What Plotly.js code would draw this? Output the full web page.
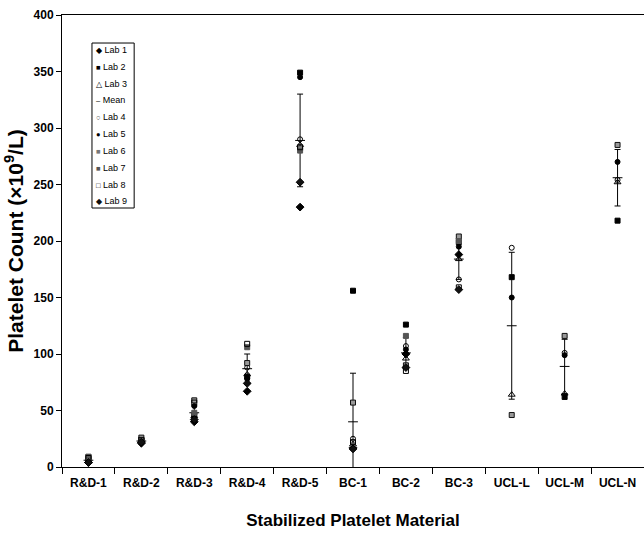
<!DOCTYPE html>
<html>
<head>
<meta charset="utf-8">
<script src="https://cdn.plot.ly/plotly-3.0.1.min.js"></script>
<style>
  html, body { margin: 0; padding: 0; background: #fff; }
  #chart { width: 644px; height: 535px; }
</style>
</head>
<body>
<div id="chart"></div>
<script>
// Stabilized platelet materials measured by each laboratory
const materials = ["R&D-1", "R&D-2", "R&D-3", "R&D-4", "R&D-5", "BC-1", "BC-2", "BC-3", "UCL-L", "UCL-M", "UCL-N"];

// Platelet counts (x10^9/L) per laboratory; null = not reported
const lab1 = [4, 21, 40, 67, 230, 17, 100, 188, null, null, null];
const lab2 = [9, 24, 46, 80, 349, 156, 126, 199, 168, 62, 218];
const lab3 = [5, 23, 45, 82, 285, 20, 96, 184, 64, 65, 252];
const lab4 = [5, 22, 47, 88, 290, 25, 107, 166, 194, 101, 254];
const lab5 = [5, 25, 54, 78, 345, 18, 104, 195, 150, 99, 270];
const lab6 = [8, 26, 59, 92, 282, 57, 90, 204, 46, 116, 285];
const lab7 = [9, 23, 48, 106, 280, 19, 116, 200, null, null, null];
const lab8 = [8, 24, 57, 109, 283, 22, 85, 159, null, null, null];
const lab9 = [4, 22, 42, 74, 252, 16, 88, 157, null, null, null];

// Mean and standard deviation across laboratories
const meanVals = [6, 23, 48, 87, 289, 40, 101, 184, 125, 89, 256];
const sdVals = [2, 1.6, 6, 13, 41, 43, 13.5, 18, 65, 24, 25];

// Key entries: symbol glyph + label
const keyLabels = ["Lab 1", "Lab 2", "Lab 3", "Mean", "Lab 4", "Lab 5", "Lab 6", "Lab 7", "Lab 8", "Lab 9"];
const keyGlyphs = ["◆", "■", "△", "–", "○", "●", "■", "■", "□", "◆"];
const keyGlyphColors = ["#000", "#000", "#000", "#000", "#333", "#000", "#777", "#555", "#000", "#111"];

function labTrace(name, y, marker) {
  return {
    type: "scatter", mode: "markers", name: name,
    x: materials, y: y,
    marker: Object.assign({ color: "#000", size: 5, line: { width: 1, color: "#000" } }, marker),
    cliponaxis: false,
    showlegend: false,
    hoverinfo: "x+y+name"
  };
}

const traces = [
  labTrace("Lab 1", lab1, { symbol: "diamond", size: 6 }),
  labTrace("Lab 2", lab2, { symbol: "square", size: 5 }),
  labTrace("Lab 3", lab3, { symbol: "triangle-up-open", size: 6 }),
  {
    type: "scatter", mode: "markers", name: "Mean",
    x: materials, y: meanVals, showlegend: false,
    marker: { symbol: "line-ew", size: 7, color: "#000", line: { width: 1, color: "#000" } },
    error_y: { type: "data", array: sdVals, visible: true, color: "#000", thickness: 1, width: 3 }
  },
  labTrace("Lab 4", lab4, { symbol: "circle-open", size: 5, line: { width: 1, color: "#333" } }),
  labTrace("Lab 5", lab5, { symbol: "circle", size: 5 }),
  labTrace("Lab 6", lab6, { symbol: "square", size: 5, color: "#999", line: { width: 1, color: "#111" } }),
  labTrace("Lab 7", lab7, { symbol: "square", size: 5, color: "#555", line: { width: 1, color: "#555" } }),
  labTrace("Lab 8", lab8, { symbol: "square-open", size: 5 }),
  labTrace("Lab 9", lab9, { symbol: "diamond", size: 6, color: "#111" })
];

// Compact boxed key in the upper-left corner of the plot area
const keyTop = 0.9226, keyStep = 0.0372;
const keyAnnotations = keyLabels.map((lab, i) => ({
  xref: "paper", yref: "paper",
  x: 0.055, y: keyTop - i * keyStep,
  xanchor: "left", yanchor: "middle",
  showarrow: false,
  text: '<span style="color:' + keyGlyphColors[i] + ';font-size:7.5px">' + keyGlyphs[i] + '</span> ' + lab,
  font: { size: 9, color: "#000" }
}));

const layout = {
  width: 644, height: 535,
  margin: { l: 62, r: 0, t: 15, b: 68 },
  paper_bgcolor: "#fff", plot_bgcolor: "#fff",
  font: { family: "Liberation Sans, Arial, sans-serif", color: "#000" },
  showlegend: false,
  shapes: [{
    type: "rect", xref: "paper", yref: "paper",
    x0: 0.0515, x1: 0.124, y0: 0.573, y1: 0.938,
    line: { color: "#000", width: 1 }, fillcolor: "rgba(0,0,0,0)"
  }],
  annotations: keyAnnotations,
  xaxis: {
    type: "category", range: [-0.5, 10.5],
    showline: true, linecolor: "#000", linewidth: 1, mirror: true,
    ticks: "outside", tickson: "boundaries", ticklen: 6, tickcolor: "#000",
    ticklabelstandoff: 5,
    showgrid: false, zeroline: false,
    tickfont: { size: 12, color: "#000", weight: "bold" },
    title: { text: "Stabilized Platelet Material", font: { size: 17, weight: "bold" }, standoff: 24 }
  },
  yaxis: {
    range: [0, 400], tickvals: [0, 50, 100, 150, 200, 250, 300, 350, 400],
    showline: true, linecolor: "#000", linewidth: 1,
    ticks: "outside", ticklen: 5, tickcolor: "#000",
    showgrid: false, zeroline: false,
    tickfont: { size: 12, color: "#000", weight: "bold" },
    title: { text: "Platelet Count (×10<sup>9</sup>/L)", font: { size: 21, weight: "bold" }, standoff: 4 }
  }
};

Plotly.newPlot("chart", traces, layout, { displayModeBar: false, staticPlot: true });
</script>
</body>
</html>
